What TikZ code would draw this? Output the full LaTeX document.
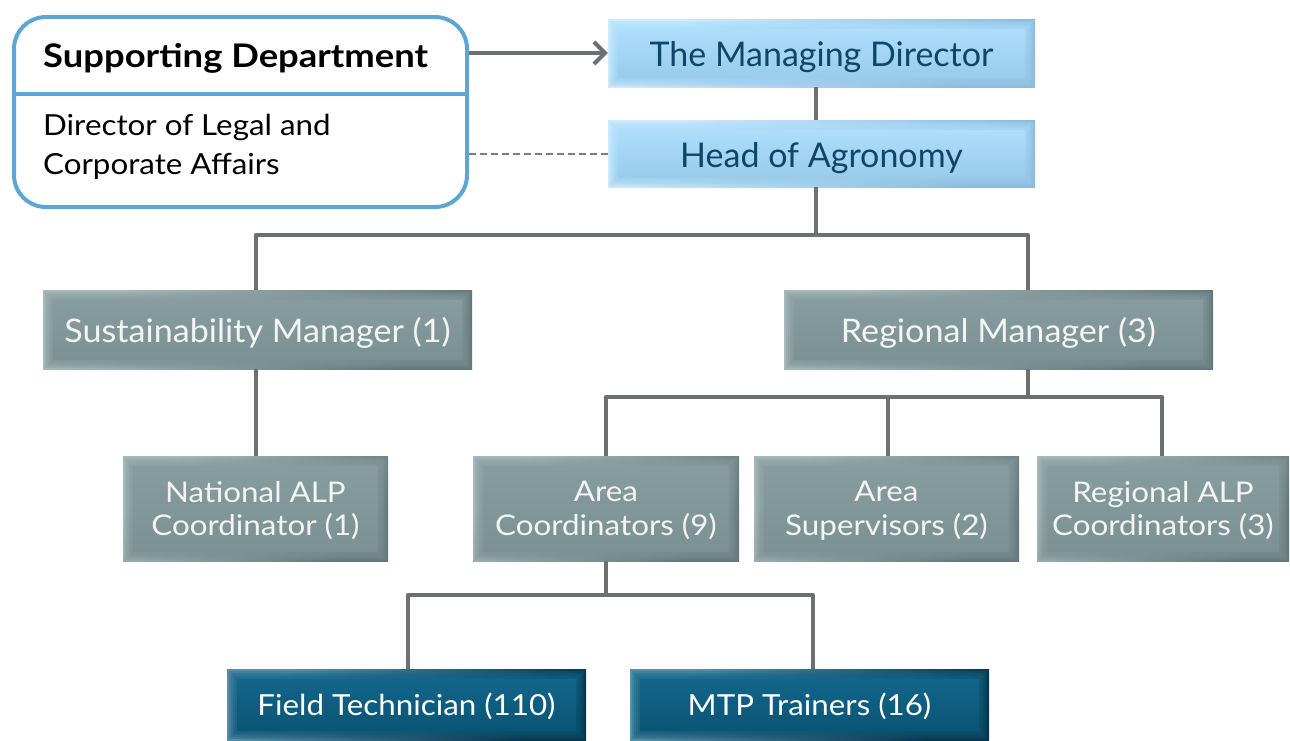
\documentclass[tikz,border=0pt]{standalone}
\usepackage{fontspec}
\setmainfont{Lato}
\newfontfamily\cardtitlefont[FakeStretch=1.12]{Lato Bold}
\newfontfamily\cardbodyfont[FakeStretch=1.08]{Lato}
\newfontfamily\mgrfont[FakeStretch=1.05]{Lato}
\newfontfamily\coordfont[FakeStretch=1.10]{Lato}
\newfontfamily\stafffont[FakeStretch=1.08]{Lato}
\usetikzlibrary{arrows.meta}

\definecolor{linegray}{HTML}{6E6F72}
\definecolor{supblue}{HTML}{5DA5D2}
\definecolor{navytext}{HTML}{0F4566}
% light blue boxes
\definecolor{skyrimA}{HTML}{CBEAFC}
\definecolor{skyrimB}{HTML}{8CBCDC}
\definecolor{skyfaceA}{HTML}{ADDEFB}
\definecolor{skyfaceB}{HTML}{99CBEC}
% slate boxes
\definecolor{slaterimA}{HTML}{A7B8B9}
\definecolor{slaterimB}{HTML}{65787B}
\definecolor{slatefaceA}{HTML}{869C9E}
\definecolor{slatefaceB}{HTML}{7B9193}
\definecolor{slatetext}{HTML}{F3F5F5}
% teal boxes
\definecolor{tealrimA}{HTML}{5590AA}
\definecolor{tealrimB}{HTML}{06364D}
\definecolor{tealfaceA}{HTML}{12658A}
\definecolor{tealfaceB}{HTML}{0A5575}

\tikzset{
  % raised box: diagonal rim blended softly into a gently shaded face
  bevelbox/.style n args={5}{
    rectangle, inner sep=0pt, align=center, text=#5, text depth=0pt,
    path picture={
      \shade[shading=axis, top color=#1, bottom color=#2, shading angle=45]
        (path picture bounding box.south west) rectangle (path picture bounding box.north east);
      \foreach \inset in {2,4,6,8}{
        \shade[top color=#3, bottom color=#4, opacity=0.3]
          ([shift={(\inset pt,\inset pt)}]path picture bounding box.south west) rectangle
          ([shift={(-\inset pt,-\inset pt)}]path picture bounding box.north east);
      }
      \shade[top color=#3, bottom color=#4]
        ([shift={(10pt,10pt)}]path picture bounding box.south west) rectangle
        ([shift={(-10pt,-10pt)}]path picture bounding box.north east);
    }},
  skybox/.style={bevelbox={skyrimA}{skyrimB}{skyfaceA}{skyfaceB}{navytext},
    font=\fontsize{34}{38}\selectfont},
  slatebox/.style={bevelbox={slaterimA}{slaterimB}{slatefaceA}{slatefaceB}{slatetext},
    font=\mgrfont\fontsize{32.5}{36}\selectfont},
  smallslate/.style={slatebox, font=\coordfont\fontsize{28.5}{33.5}\selectfont},
  tealbox/.style={bevelbox={tealrimA}{tealrimB}{tealfaceA}{tealfaceB}{white},
    font=\stafffont\fontsize{29}{33}\selectfont},
  tree/.style={draw=linegray, line width=4pt, line join=round},
}

\begin{document}
\begin{tikzpicture}[x=1pt,y=-1pt]
\useasboundingbox (0,0) rectangle (1290,740);

% supporting department card
\node[draw=supblue, line width=4pt, rounded corners=32pt, fill=white,
      minimum width=453pt, minimum height=190pt] (sup) at (240.5,112) {};
\coordinate (divL) at (14,94);
\coordinate (divR) at (467,94);
\draw[supblue, line width=4pt] (divL) -- (divR);
\node[anchor=base west, inner sep=0pt, font=\cardtitlefont\fontsize{32.5}{36}\selectfont]
  (suptitle) at (43,67.5) {Supporting Department};
\node[anchor=base west, inner sep=0pt, align=left, font=\cardbodyfont\fontsize{29}{39}\selectfont]
  (supbody) at (43,174) {Director of Legal and\\Corporate Affairs};

% top of the hierarchy
\node[skybox, minimum width=427pt, minimum height=68pt] (md) at (821.5,53) {\raisebox{-2pt}{The Managing Director}};
\node[skybox, minimum width=427pt, minimum height=67pt] (hoa) at (821.5,153.5) {\raisebox{-2pt}{Head of Agronomy}};

% managers
\node[slatebox, minimum width=429pt, minimum height=79pt] (sm) at (257.5,329.5) {Sustainability Manager (1)};
\node[slatebox, minimum width=429pt, minimum height=79pt] (rm) at (998.5,329.5) {Regional Manager (3)};

% coordinators and supervisors
\node[smallslate, minimum width=265pt, minimum height=105pt] (nalp) at (255.5,508.5) {National ALP\\Coordinator (1)};
\node[smallslate, minimum width=266pt, minimum height=105pt] (ac) at (606,508.5) {Area\\Coordinators (9)};
\node[smallslate, minimum width=265pt, minimum height=105pt] (as) at (886.5,508.5) {Area\\Supervisors (2)};
\node[smallslate, minimum width=252pt, minimum height=105pt] (ralp) at (1163,508.5) {Regional ALP\\Coordinators (3)};

% field staff
\node[tealbox, minimum width=359pt, minimum height=71pt] (ft) at (406.5,704.5) {Field Technician (110)};
\node[tealbox, minimum width=359pt, minimum height=71pt] (mtp) at (809.5,704.5) {MTP Trainers (16)};

% links from the supporting department
\draw[linegray, line width=4pt, -{Straight Barb[length=11pt,width=22pt,line width=4pt]}]
  (sup.east |- md.west) -- (md.west);
\draw[linegray!90, line width=2pt, dash pattern=on 7pt off 4pt]
  (sup.east |- hoa.west) -- (hoa.west);

% reporting lines
\draw[tree] ([xshift=-5.5pt]md.south) -- ([xshift=-5.5pt]hoa.north);
\draw[tree] ([xshift=-5.5pt]hoa.south) -- ++(0,48) coordinate (hub1);
\draw[tree] ([xshift=-1.5pt]sm.north) |- (hub1) -| ([xshift=29.5pt]rm.north);
\draw[tree] ([xshift=-1.5pt]sm.south) -- ([xshift=0.5pt]nalp.north);
\draw[tree] ([xshift=29.5pt]rm.south) -- ++(0,28) coordinate (hub2);
\draw[tree] (ac.north) |- (hub2) -| ([xshift=-1pt]ralp.north);
\draw[tree] ([xshift=1.5pt]as.north) -- ([xshift=1.5pt]as.north |- hub2);
\draw[tree] (ac.south) -- ++(0,34) coordinate (hub3);
\draw[tree] ([xshift=1.5pt]ft.north) |- (hub3) -| ([xshift=3.5pt]mtp.north);
\end{tikzpicture}
\end{document}
